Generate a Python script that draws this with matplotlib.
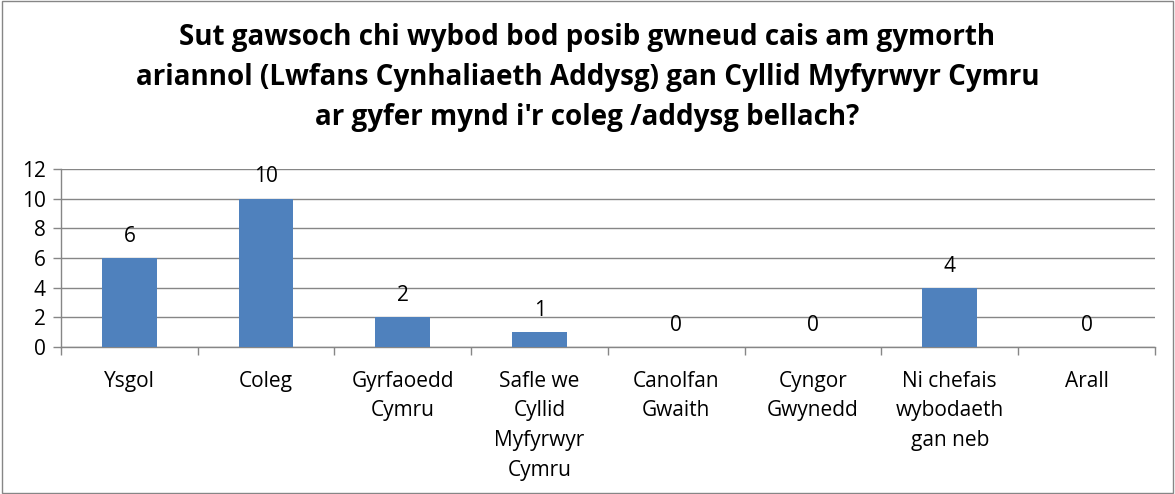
import numpy as np
import matplotlib.pyplot as plt
from matplotlib.patches import Rectangle

categories = ['Ysgol', 'Coleg', 'Gyrfaoedd\nCymru', 'Safle we\nCyllid\nMyfyrwyr\nCymru',
              'Canolfan\nGwaith', 'Cyngor\nGwynedd', 'Ni chefais\nwybodaeth\ngan neb', 'Arall']
counts = [6, 10, 2, 1, 0, 0, 4, 0]
yticks = [0, 2, 4, 6, 8, 10, 12]
title = ("Sut gawsoch chi wybod bod posib gwneud cais am gymorth\n"
         "ariannol (Lwfans Cynhaliaeth Addysg) gan Cyllid Myfyrwyr Cymru\n"
         "ar gyfer mynd i'r coleg /addysg bellach?")

plt.rcParams['font.family'] = ['Open Sans', 'DejaVu Sans']

fig = plt.figure(figsize=(11.75, 4.94), dpi=100)
ax = fig.add_axes([0.0519, 0.2976, 0.931, 0.3604])

x = np.arange(len(categories))
ax.bar(x, counts, width=0.4, color='#4F81BD', zorder=3)
for xi, v in zip(x, counts):
    ax.text(xi, v + 0.75, str(v), ha='center', va='bottom', fontsize=15, color='black')

ax.set_xlim(-0.5, len(categories) - 0.5)
ax.set_ylim(0, 12)
ax.set_yticks(yticks)
ax.set_yticklabels([str(t) for t in yticks], fontsize=15)
ax.yaxis.grid(True, color='#868686', linewidth=1, zorder=0)
ax.set_xticks(x)
ax.set_xticklabels(categories, fontsize=15, linespacing=1.55, va='top')
ax.tick_params(axis='x', which='major', length=0, pad=17)
ax.set_xticks(np.arange(-0.5, len(categories)), minor=True)
ax.tick_params(axis='x', which='minor', length=6, color='#868686', width=1)
ax.tick_params(axis='y', length=6, color='#868686', width=1, pad=5)

for s in ['top', 'right']:
    ax.spines[s].set_visible(False)
for s in ['left', 'bottom']:
    ax.spines[s].set_color('#868686')
    ax.spines[s].set_linewidth(1)

fig.text(0.5, 0.733, title, ha='center', va='bottom', fontsize=20,
         fontweight='bold', linespacing=1.5)

fig.patches.append(Rectangle((0.002, 0.003), 0.996, 0.994, transform=fig.transFigure,
                             fill=False, edgecolor='#868686', linewidth=1))

fig.savefig('out.png', dpi=100)
